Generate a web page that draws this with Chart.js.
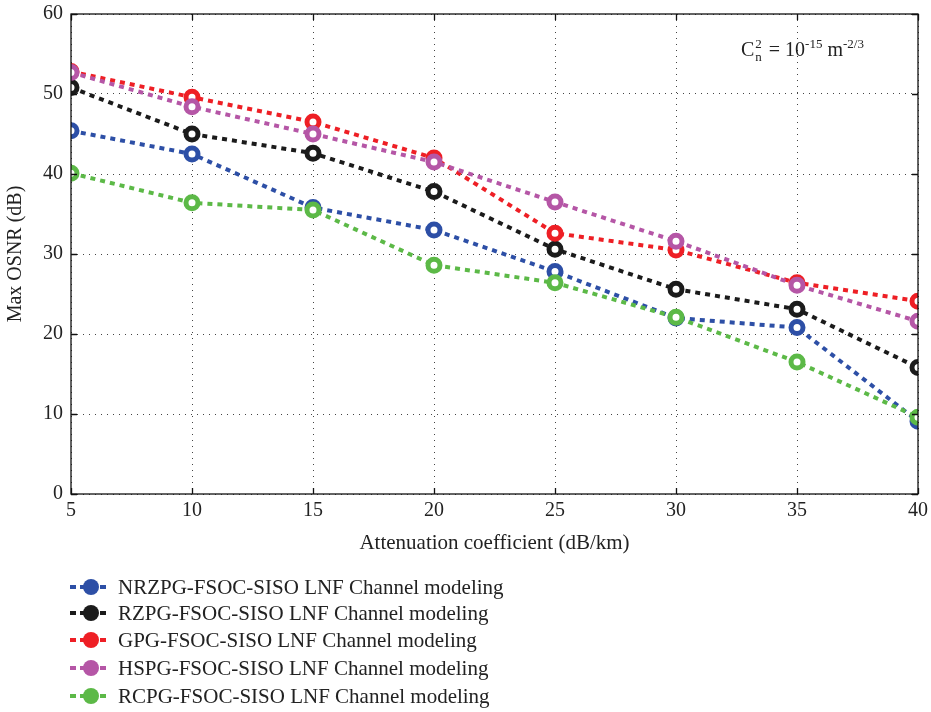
<!DOCTYPE html>
<html><head><meta charset="utf-8">
<script src="https://cdn.jsdelivr.net/npm/chart.js@4/dist/chart.umd.min.js"></script>
<style>html,body{margin:0;padding:0;background:#fff}#wrap{width:931px;height:712px;position:relative}</style>
</head><body><div id="wrap"><canvas id="c" width="931" height="712"></canvas></div>
<script>
const xValues = [5, 10, 15, 20, 25, 30, 35, 40];
const yTicks = [0, 10, 20, 30, 40, 50, 60];
const seriesNames = [
  "NRZPG-FSOC-SISO LNF Channel modeling",
  "RZPG-FSOC-SISO LNF Channel modeling",
  "GPG-FSOC-SISO LNF Channel modeling",
  "HSPG-FSOC-SISO LNF Channel modeling",
  "RCPG-FSOC-SISO LNF Channel modeling"
];
const nrzpg = [45.4, 42.5, 35.8, 33.0, 27.8, 22.0, 20.8, 9.1];
const rzpg  = [50.8, 45.0, 42.6, 37.8, 30.6, 25.6, 23.1, 15.8];
const gpg   = [52.8, 49.6, 46.5, 42.0, 32.6, 30.5, 26.4, 24.1];
const hspg  = [52.7, 48.4, 45.0, 41.5, 36.5, 31.6, 26.1, 21.6];
const rcpg  = [40.1, 36.4, 35.5, 28.6, 26.4, 22.1, 16.5, 9.6];
const colors = ["#2d4fa6", "#1b1b1b", "#ee1f25", "#b556a6", "#5cb947"];
const allSeries = [nrzpg, rzpg, gpg, hspg, rcpg];

const FONT = "'Liberation Serif', 'Times New Roman', serif";

const datasets = allSeries.map((vals, i) => ({
  label: seriesNames[i],
  data: vals.map((v, j) => ({x: xValues[j], y: v})),
  borderColor: colors[i],
  backgroundColor: colors[i],
  borderWidth: 4,
  borderDash: [5, 5],
  pointRadius: 6,
  pointBorderWidth: 5,
  pointBackgroundColor: "#ffffff",
  pointBorderColor: colors[i],
  tension: 0,
  order: 5 - i
}));

const framePlugin = {
  id: 'frame',
  afterDatasetsDraw(chart) {
    const {ctx, chartArea: a, scales} = chart;
    ctx.save();
    ctx.strokeStyle = '#111';
    ctx.lineWidth = 1.3;
    ctx.strokeRect(a.left, a.top, a.right - a.left, a.bottom - a.top);
    const tl = 6;
    ctx.beginPath();
    xValues.forEach(v => {
      const px = Math.round(scales.x.getPixelForValue(v)) + 0.5;
      ctx.moveTo(px, a.bottom); ctx.lineTo(px, a.bottom - tl);
      ctx.moveTo(px, a.top); ctx.lineTo(px, a.top + tl);
    });
    yTicks.forEach(v => {
      const py = Math.round(scales.y.getPixelForValue(v)) + 0.5;
      ctx.moveTo(a.left, py); ctx.lineTo(a.left + tl, py);
      ctx.moveTo(a.right, py); ctx.lineTo(a.right - tl, py);
    });
    ctx.stroke();
    ctx.restore();
  },
  afterDraw(chart) {
    const {ctx} = chart;
    ctx.save();
    ctx.fillStyle = '#222';
    ctx.textBaseline = 'alphabetic';
    ctx.textAlign = 'left';
    const big = "20px " + FONT, small = "13px " + FONT;
    let x = 741, y = 56;
    ctx.font = big; ctx.fillText("C", x, y); x += ctx.measureText("C").width;
    ctx.font = small; ctx.fillText("2", x + 1, y - 8); ctx.fillText("n", x + 1, y + 5);
    x += ctx.measureText("n").width + 3;
    ctx.font = big; ctx.fillText(" = 10", x, y); x += ctx.measureText(" = 10").width;
    ctx.font = small; ctx.fillText("-15", x, y - 8); x += ctx.measureText("-15").width;
    ctx.font = big; ctx.fillText(" m", x, y); x += ctx.measureText(" m").width;
    ctx.font = small; ctx.fillText("-2/3", x, y - 8);

    const rows = [587, 613, 640, 668, 696];
    ctx.font = "21px " + FONT;
    ctx.textBaseline = 'middle';
    rows.forEach((ry, i) => {
      ctx.strokeStyle = colors[i];
      ctx.lineWidth = 4;
      ctx.setLineDash([6, 4]);
      ctx.beginPath(); ctx.moveTo(70, ry); ctx.lineTo(110, ry); ctx.stroke();
      ctx.setLineDash([]);
      ctx.fillStyle = colors[i];
      ctx.beginPath(); ctx.arc(91, ry, 8, 0, Math.PI * 2); ctx.fill();
      ctx.fillStyle = '#222';
      ctx.fillText(seriesNames[i], 118, ry + 1);
    });
    ctx.restore();
  }
};

new Chart(document.getElementById('c'), {
  type: 'line',
  data: { datasets },
  options: {
    responsive: false,
    animation: false,
    layout: { padding: { left: 0, top: 14, right: 13, bottom: 152 } },
    plugins: { legend: { display: false }, tooltip: { enabled: false } },
    scales: {
      x: {
        type: 'linear', min: 5, max: 40,
        afterBuildTicks(s) { s.ticks = xValues.map(v => ({value: v})); },
        afterFit(s) { s.height = 66; s.paddingLeft = 0; s.paddingRight = 0; },
        grid: { color: '#444', lineWidth: 1, drawTicks: false },
        border: { display: false, dash: [1, 5] },
        ticks: { color: '#222', font: { family: FONT, size: 20 }, padding: 5 },
        title: { display: true, text: 'Attenuation coefficient (dB/km)', color: '#222', font: { family: FONT, size: 21 }, padding: { top: 6 } }
      },
      y: {
        min: 0, max: 60,
        afterBuildTicks(s) { s.ticks = yTicks.map(v => ({value: v})); },
        afterFit(s) { s.width = 71; s.paddingTop = 0; s.paddingBottom = 0; },
        grid: { color: '#444', lineWidth: 1, drawTicks: false },
        border: { display: false, dash: [1, 5] },
        ticks: { color: '#222', font: { family: FONT, size: 20 }, padding: 8 },
        title: { display: true, text: 'Max OSNR (dB)', color: '#222', font: { family: FONT, size: 20 }, padding: { bottom: 2 } }
      }
    }
  },
  plugins: [framePlugin]
});
</script></body></html>
